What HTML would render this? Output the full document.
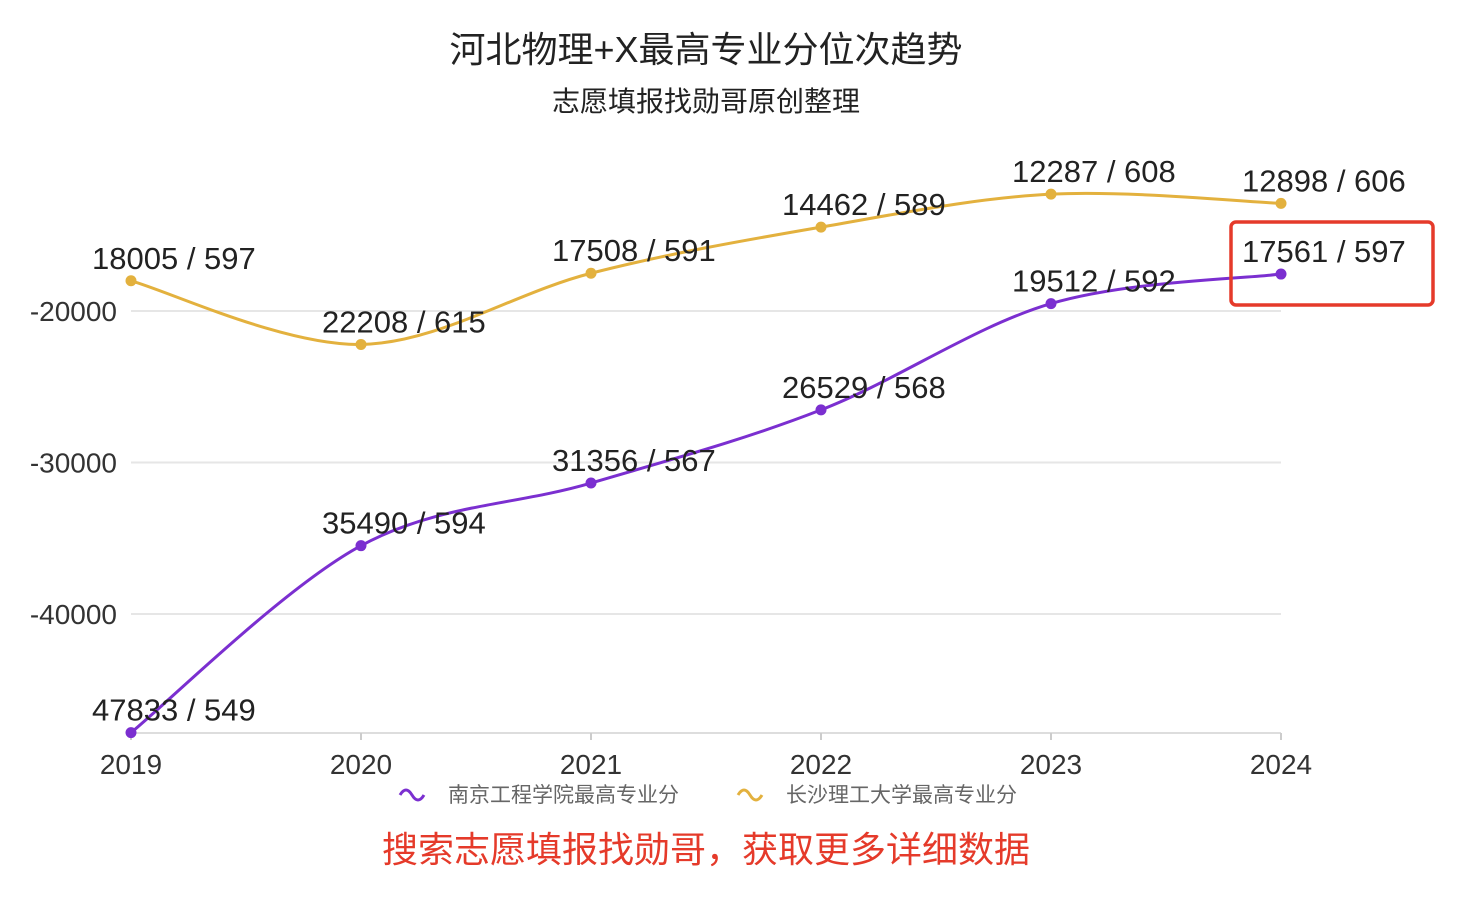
<!DOCTYPE html>
<html><head><meta charset="utf-8">
<style>
body{margin:0;background:#fff;}
svg text{font-family:"Liberation Sans","Noto Sans CJK SC",sans-serif;}
</style></head>
<body>
<svg id="chart" width="1460" height="904" xmlns="http://www.w3.org/2000/svg">
<text x="706" y="62" text-anchor="middle" font-size="36" fill="#222">河北物理+X最高专业分位次趋势</text>
<text x="706" y="111" text-anchor="middle" font-size="28" fill="#222">志愿填报找勋哥原创整理</text>
<g id="grid"></g>
<g id="series"></g>
<g id="labels"></g>
<rect x="1231" y="222" width="202" height="83" rx="5" fill="none" stroke="#e53a2a" stroke-width="3.5"/>
<g>
<path d="M400 795 q6 -10 12 0 q6 10 12 0" fill="none" stroke="#7b2fd0" stroke-width="3"/>
<text x="448" y="802" font-size="21" fill="#666">南京工程学院最高专业分</text>
<path d="M738 795 q6 -10 12 0 q6 10 12 0" fill="none" stroke="#e3b13e" stroke-width="3"/>
<text x="786" y="802" font-size="21" fill="#666">长沙理工大学最高专业分</text>
</g>
<text x="706" y="862" text-anchor="middle" font-size="36" fill="#e53a2a">搜索志愿填报找勋哥，获取更多详细数据</text>
</svg>
<script>
const years = ['2019','2020','2021','2022','2023','2024'];
const nanjingRank = [47833, 35490, 31356, 26529, 19512, 17561];
const nanjingScore = [549, 594, 567, 568, 592, 597];
const changshaRank = [18005, 22208, 17508, 14462, 12287, 12898];
const changshaScore = [597, 615, 591, 589, 608, 606];
const yTicks = [-20000, -30000, -40000];

const NS='http://www.w3.org/2000/svg';
const x = i => 131 + i*230;
const y = v => 311 + (-20000 - v) * (151.5/10000);
function mk(tag, attrs, parent){const e=document.createElementNS(NS,tag);for(const k in attrs)e.setAttribute(k,attrs[k]);parent.appendChild(e);return e;}
const grid=document.getElementById('grid'), ser=document.getElementById('series'), lab=document.getElementById('labels');
yTicks.forEach(t=>{
  const l=mk('line',{x1:131,x2:1281,y1:y(t),y2:y(t),stroke:'#e6e6e6','stroke-width':2},grid);
  
  
  const tx=mk('text',{x:117,y:y(t)+10,'text-anchor':'end','font-size':28,fill:'#333'},grid);
  tx.textContent=String(t);
  
  
});
const ax=mk('line',{x1:131,x2:1281,y1:733,y2:733,stroke:'#ddd','stroke-width':2},grid);


years.forEach((yr,i)=>{
  const tk=mk('line',{x1:x(i),x2:x(i),y1:733,y2:740,stroke:'#ccc','stroke-width':2},grid);
  
  
  const t=mk('text',{x:x(i),y:774,'text-anchor':'middle','font-size':28,fill:'#333'},grid);
  t.textContent=yr;
  
  
});
function smooth(pts){
  let d='M'+pts[0][0]+' '+pts[0][1];
  for(let i=0;i<pts.length-1;i++){
    const p0=pts[i-1]||pts[i],p1=pts[i],p2=pts[i+1],p3=pts[i+2]||p2;
    const c1=[p1[0]+(p2[0]-p0[0])/6,p1[1]+(p2[1]-p0[1])/6];
    const c2=[p2[0]-(p3[0]-p1[0])/6,p2[1]-(p3[1]-p1[1])/6];
    d+=` C${c1[0]} ${c1[1]} ${c2[0]} ${c2[1]} ${p2[0]} ${p2[1]}`;
  }
  return d;
}
function drawSeries(ranks,scores,color,name){
  const pts=ranks.map((r,i)=>[x(i),y(-r)]);
  const p=mk('path',{d:smooth(pts),fill:'none',stroke:color,'stroke-width':3},ser);
  
  
  pts.forEach((pt,i)=>{
    const c=mk('circle',{cx:pt[0],cy:pt[1],r:5.5,fill:color},ser);
    
    
    const t=mk('text',{x:pt[0]-39,y:pt[1]-12,'font-size':31,fill:'#222'},lab);
    t.textContent=ranks[i]+' / '+scores[i];
    
    
  });
}
drawSeries(changshaRank,changshaScore,'#e3b13e','changsha');
drawSeries(nanjingRank,nanjingScore,'#7b2fd0','nanjing');
</script>
</body></html>
